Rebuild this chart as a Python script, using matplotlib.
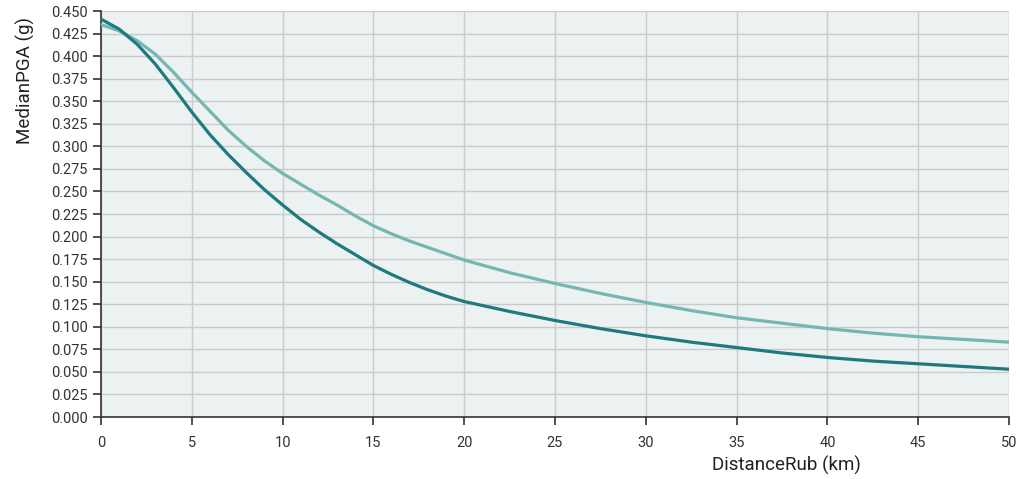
import matplotlib
matplotlib.use("Agg")
import matplotlib.pyplot as plt

plt.rcParams['font.family'] = ['Roboto', 'DejaVu Sans']

# distance (km) and median PGA (g)
dist = [0, 1, 2, 3, 4, 5, 6, 7, 8, 9, 10, 11, 12, 13, 14, 15, 16, 17, 18, 19, 20,
        22.5, 25, 27.5, 30, 32.5, 35, 37.5, 40, 42.5, 45, 47.5, 50]
pga_dark = [0.441, 0.430, 0.413, 0.391, 0.365, 0.338, 0.313, 0.291, 0.271, 0.252, 0.235,
            0.219, 0.205, 0.192, 0.180, 0.168, 0.158, 0.149, 0.141, 0.134, 0.128,
            0.117, 0.107, 0.098, 0.090, 0.083, 0.077, 0.071, 0.066, 0.062, 0.059, 0.056, 0.053]
pga_light = [0.435, 0.428, 0.417, 0.402, 0.382, 0.360, 0.339, 0.318, 0.300, 0.284, 0.270,
             0.258, 0.246, 0.235, 0.223, 0.212, 0.203, 0.195, 0.188, 0.181, 0.174,
             0.160, 0.148, 0.137, 0.127, 0.118, 0.110, 0.104, 0.098, 0.093, 0.089, 0.086, 0.083]

xticks = list(range(0, 51, 5))
yticks = [i * 0.025 for i in range(19)]

fig = plt.figure(figsize=(10.22, 4.79), dpi=100)
ax = fig.add_axes([0.0988, 0.1294, 0.8885, 0.8476])
ax.set_facecolor('#ecf1f1')

ax.plot(dist, pga_light, color='#74b7b2', lw=2.3, zorder=3)
ax.plot(dist, pga_dark, color='#1f7a7d', lw=2.3, zorder=4)

ax.set_xlim(0, 50)
ax.set_ylim(0, 0.45)
ax.set_xticks(xticks)
ax.set_yticks(yticks)
ax.set_yticklabels(['%.3f' % v for v in yticks])
ax.grid(True, color='#c9cccc', lw=1)
ax.set_axisbelow(True)

for s in ['top', 'right']:
    ax.spines[s].set_visible(False)
for s in ['left', 'bottom']:
    ax.spines[s].set_color('#333333')
    ax.spines[s].set_linewidth(1.2)
ax.tick_params(direction='out', length=6, width=1.2, color='#333333',
               labelsize=10.5, labelcolor='#333333')
ax.tick_params(axis='x', pad=8)

ax.set_xlabel('DistanceRub (km)', fontsize=13.5, color='#222222')
ax.xaxis.set_label_coords(0.755, -0.096)
ax.set_ylabel('MedianPGA (g)', fontsize=13.5, color='#222222')
ax.yaxis.set_label_coords(-0.073, 0.83)

fig.savefig('out.png', dpi=100)
